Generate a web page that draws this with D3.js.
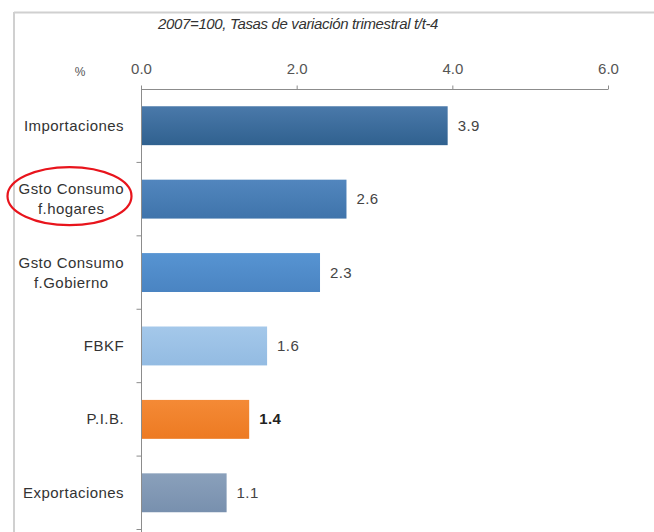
<!DOCTYPE html>
<html><head><meta charset="utf-8">
<script src="https://cdn.jsdelivr.net/npm/d3@7"></script>
<style>body{margin:0;background:#fff}svg{display:block}</style>
</head><body>
<svg id="c" width="654" height="532"></svg>
<script>
const categories = [["Importaciones"],["Gsto Consumo","f.hogares"],["Gsto Consumo","f.Gobierno"],["FBKF"],["P.I.B."],["Exportaciones"]];
const values = [3.94, 2.64, 2.30, 1.62, 1.39, 1.10];
const colorsTop = ["#4a79aa","#5286be","#5794d2","#a4c8ea","#f48a36","#8aa0bb"];
const colorsBot = ["#30618f","#3f74ab","#4a84c2","#93bbe2","#ed7a22","#7890ae"];
const tickValues = [0, 2, 4, 6];
const title = "2007=100, Tasas de variación trimestral t/t-4";

const FONT = "Liberation Sans, Arial, sans-serif";
const svg = d3.select("#c");
const x = d3.scaleLinear().domain([0, 6]).range([141, 608]);
const y = d3.scaleBand().domain(d3.range(categories.length)).range([89, 529.5]).paddingInner(0.47).paddingOuter(0.235);

// frame
svg.append("line").attr("x1",14).attr("x2",654).attr("y1",12.5).attr("y2",12.5).attr("stroke","#d0d0d0").attr("stroke-width",2);
svg.append("line").attr("x1",14).attr("x2",14).attr("y1",12).attr("y2",532).attr("stroke","#d0d0d0").attr("stroke-width",2);

svg.append("text").attr("x",158).attr("y",29).attr("font-family",FONT)
  .attr("font-size",15).attr("font-style","italic").attr("fill","#333").attr("letter-spacing","-0.35").text(title);

const defs = svg.append("defs");
values.forEach((v,i)=>{
  const g = defs.append("linearGradient").attr("id","g"+i).attr("x1",0).attr("x2",0).attr("y1",0).attr("y2",1);
  g.append("stop").attr("offset","0%").attr("stop-color",colorsTop[i]);
  g.append("stop").attr("offset","100%").attr("stop-color",colorsBot[i]);
});

// x axis
const xa = svg.append("g").attr("transform","translate(0,89.5)")
  .call(d3.axisTop(x).tickValues(tickValues).tickFormat(d3.format(".1f")).tickSize(4).tickPadding(12));
xa.select(".domain").attr("stroke","#8c8c8c").attr("d","M141,0H608");
xa.selectAll(".tick line").attr("stroke","#8c8c8c");
xa.selectAll(".tick text").attr("font-family",FONT).attr("font-size",15).attr("fill","#555");

svg.append("text").attr("x",80).attr("y",76).attr("text-anchor","middle").attr("font-family",FONT).attr("font-size",12).attr("fill","#555").text("%");

// y axis
const ya = svg.append("g").attr("transform","translate(141.5,0)");
ya.append("line").attr("x1",0).attr("x2",0).attr("y1",86).attr("y2",532).attr("stroke","#8c8c8c");
const bounds = d3.range(categories.length+1).map(i => 89 + i*(529.5-89)/categories.length);
ya.selectAll("line.t").data(bounds.slice(1)).join("line").attr("class","t")
  .attr("x1",-5).attr("x2",0).attr("y1",d=>d).attr("y2",d=>d).attr("stroke","#8c8c8c");

// bars
svg.selectAll("rect.bar").data(values).join("rect").attr("class","bar")
  .attr("x",x(0)+1).attr("y",(d,i)=>y(i)).attr("height",y.bandwidth())
  .attr("width",d=>x(d)-x(0)-1).attr("fill",(d,i)=>"url(#g"+i+")");

// value labels
svg.selectAll("text.val").data(values).join("text").attr("class","val")
  .attr("x",d=>x(d)+10).attr("y",(d,i)=>y(i)+y.bandwidth()/2+5)
  .attr("font-family",FONT).attr("font-size",15).attr("letter-spacing","0.4")
  .attr("font-weight",(d,i)=>i===4?"bold":"normal").attr("fill",(d,i)=>i===4?"#222":"#444")
  .text(d=>d3.format(".1f")(d));

// category labels
const lblRight = 124;
const LS = "0.45";
categories.forEach((lines,i)=>{
  const cy = y(i)+y.bandwidth()/2;
  const t = svg.append("text").attr("font-family",FONT).attr("font-size",15).attr("letter-spacing",LS).attr("fill","#333");
  if(lines.length===1){
    t.attr("x",lblRight).attr("y",cy+5).attr("text-anchor","end").text(lines[0]);
  } else {
    const n = lines.length, lh = 20;
    const tmp = svg.append("text").attr("font-family",FONT).attr("font-size",15).attr("letter-spacing",LS).text(lines[0]);
    const w = d3.max(lines, l => { tmp.text(l); return tmp.node().getComputedTextLength(); });
    tmp.remove();
    const cx = lblRight - w/2;
    t.attr("text-anchor","middle");
    lines.forEach((l,k)=>{
      t.append("tspan").attr("x",cx).attr("y",cy+5+(k-(n-1)/2)*lh).text(l);
    });
  }
});

// red ellipse highlight
svg.append("ellipse").attr("cx",69.5).attr("cy",y(1)+y.bandwidth()/2-3).attr("rx",62).attr("ry",29)
  .attr("fill","none").attr("stroke","#e8141c").attr("stroke-width",2.2);
</script>
</body></html>
